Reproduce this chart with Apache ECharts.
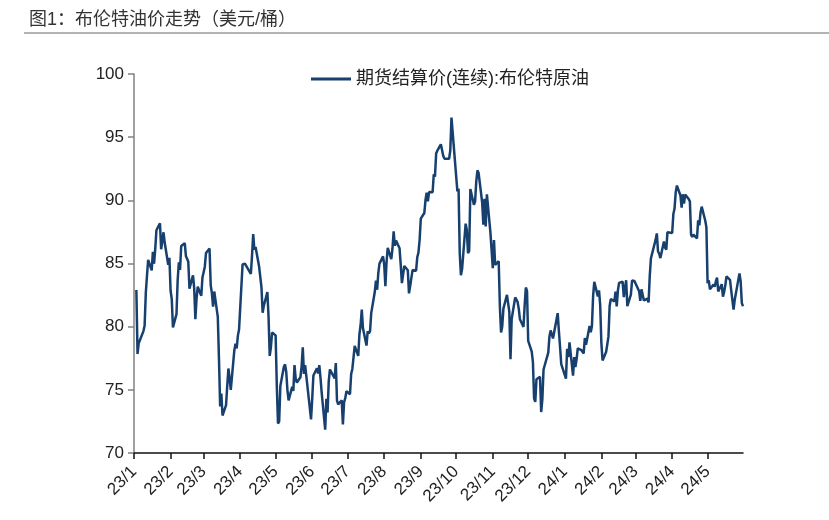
<!DOCTYPE html>
<html>
<head>
<meta charset="utf-8">
<script src="https://cdn.jsdelivr.net/npm/echarts@6/dist/echarts.min.js"></script>
<style>html,body{margin:0;padding:0;background:#fff;}#c{width:829px;height:520px;}</style>
</head>
<body>
<div id="c"></div>
<script>
const titleText = '图1：布伦特油价走势（美元/桶）';
const seriesName = '期货结算价(连续):布伦特原油';
const yTicks = [70, 75, 80, 85, 90, 95, 100];

const dates2023 = [
'2023-01-03','2023-01-04','2023-01-05','2023-01-06','2023-01-09','2023-01-10','2023-01-11','2023-01-12','2023-01-13','2023-01-16','2023-01-17','2023-01-18','2023-01-19','2023-01-20','2023-01-23','2023-01-24','2023-01-25','2023-01-26','2023-01-27','2023-01-30','2023-01-31',
'2023-02-01','2023-02-02','2023-02-03','2023-02-06','2023-02-07','2023-02-08','2023-02-09','2023-02-10','2023-02-13','2023-02-14','2023-02-15','2023-02-16','2023-02-17','2023-02-20','2023-02-21','2023-02-22','2023-02-23','2023-02-24','2023-02-27','2023-02-28',
'2023-03-01','2023-03-02','2023-03-03','2023-03-06','2023-03-07','2023-03-08','2023-03-09','2023-03-10','2023-03-13','2023-03-14','2023-03-15','2023-03-16','2023-03-17','2023-03-20','2023-03-21','2023-03-22','2023-03-23','2023-03-24','2023-03-27','2023-03-28','2023-03-29','2023-03-30','2023-03-31',
'2023-04-03','2023-04-04','2023-04-05','2023-04-06','2023-04-10','2023-04-11','2023-04-12','2023-04-13','2023-04-14','2023-04-17','2023-04-18','2023-04-19','2023-04-20','2023-04-21','2023-04-24','2023-04-25','2023-04-26','2023-04-27','2023-04-28',
'2023-05-01','2023-05-02','2023-05-03','2023-05-04','2023-05-05','2023-05-08','2023-05-09','2023-05-10','2023-05-11','2023-05-12','2023-05-15','2023-05-16','2023-05-17','2023-05-18','2023-05-19','2023-05-22','2023-05-23','2023-05-24','2023-05-25','2023-05-26','2023-05-30','2023-05-31',
'2023-06-01','2023-06-02','2023-06-05','2023-06-06','2023-06-07','2023-06-08','2023-06-09','2023-06-12','2023-06-13','2023-06-14','2023-06-15','2023-06-16','2023-06-19','2023-06-20','2023-06-21','2023-06-22','2023-06-23','2023-06-26','2023-06-27','2023-06-28','2023-06-29','2023-06-30',
'2023-07-03','2023-07-04','2023-07-05','2023-07-06','2023-07-07','2023-07-10','2023-07-11','2023-07-12','2023-07-13','2023-07-14','2023-07-17','2023-07-18','2023-07-19','2023-07-20','2023-07-21','2023-07-24','2023-07-25','2023-07-26','2023-07-27','2023-07-28','2023-07-31',
'2023-08-01','2023-08-02','2023-08-03','2023-08-04','2023-08-07','2023-08-08','2023-08-09','2023-08-10','2023-08-11','2023-08-14','2023-08-15','2023-08-16','2023-08-17','2023-08-18','2023-08-21','2023-08-22','2023-08-23','2023-08-24','2023-08-25','2023-08-28','2023-08-29','2023-08-30','2023-08-31',
'2023-09-01','2023-09-04','2023-09-05','2023-09-06','2023-09-07','2023-09-08','2023-09-11','2023-09-12','2023-09-13','2023-09-14','2023-09-15','2023-09-18','2023-09-19','2023-09-20','2023-09-21','2023-09-22','2023-09-25','2023-09-26','2023-09-27','2023-09-28','2023-09-29',
'2023-10-02','2023-10-03','2023-10-04','2023-10-05','2023-10-06','2023-10-09','2023-10-10','2023-10-11','2023-10-12','2023-10-13','2023-10-16','2023-10-17','2023-10-18','2023-10-19','2023-10-20','2023-10-23','2023-10-24','2023-10-25','2023-10-26','2023-10-27','2023-10-30','2023-10-31',
'2023-11-01','2023-11-02','2023-11-03','2023-11-06','2023-11-07','2023-11-08','2023-11-09','2023-11-10','2023-11-13','2023-11-14','2023-11-15','2023-11-16','2023-11-17','2023-11-20','2023-11-21','2023-11-22','2023-11-23','2023-11-24','2023-11-27','2023-11-28','2023-11-29','2023-11-30',
'2023-12-01','2023-12-04','2023-12-05','2023-12-06','2023-12-07','2023-12-08','2023-12-11','2023-12-12','2023-12-13','2023-12-14','2023-12-15','2023-12-18','2023-12-19','2023-12-20','2023-12-21','2023-12-22','2023-12-26','2023-12-27','2023-12-28','2023-12-29'
];
const prices2023 = [
82.90,77.84,78.69,78.57,79.65,80.10,82.67,84.03,85.28,84.46,85.92,84.98,86.16,87.63,88.19,86.13,86.12,87.47,86.66,84.90,85.46,
82.84,82.17,79.94,80.99,83.69,85.09,84.50,86.39,86.61,85.58,85.38,85.14,83.00,84.07,83.05,80.60,82.21,83.16,82.45,83.89,
84.31,84.75,85.83,86.18,83.29,82.66,81.59,82.78,80.77,77.45,73.69,74.70,72.97,73.79,75.32,76.69,75.91,74.99,78.12,78.65,78.28,79.27,79.77,
84.93,84.94,84.99,85.12,84.18,85.61,87.33,86.09,86.31,84.76,84.77,83.12,81.10,81.66,82.73,80.77,77.69,78.37,79.54,
79.31,75.32,72.33,72.50,75.30,76.83,77.01,76.41,74.98,74.17,75.23,74.91,76.96,75.86,75.58,75.99,76.84,78.36,76.26,76.95,73.54,72.66,
74.28,76.13,76.71,76.29,76.95,75.96,74.79,71.84,74.29,73.20,75.67,76.61,76.09,75.90,77.12,74.14,73.85,74.18,72.26,74.03,74.34,74.90,
74.65,76.25,76.65,76.52,78.47,77.69,79.40,80.11,81.36,79.87,78.50,79.63,79.46,79.64,81.07,82.74,83.64,82.92,84.24,84.99,85.56,
84.91,83.20,85.14,86.24,85.34,86.17,87.55,86.40,86.81,86.21,84.89,83.45,84.12,84.80,84.46,82.64,83.21,83.36,84.48,84.42,85.49,85.86,86.86,
88.55,89.00,90.04,90.60,89.92,90.65,90.64,92.06,91.88,93.70,93.93,94.43,94.34,93.53,93.30,93.27,93.29,93.96,96.55,95.38,95.31,
90.71,90.92,85.81,84.07,84.58,88.15,87.65,85.82,86.00,90.89,89.65,89.90,91.50,92.38,92.16,89.83,88.07,90.13,87.93,90.48,87.45,87.41,
84.63,86.85,84.89,85.18,81.61,79.54,80.01,81.43,82.52,82.47,81.18,77.42,80.61,82.32,82.45,81.96,81.42,80.58,79.98,81.68,83.10,82.83,
78.88,78.03,77.20,74.30,74.05,75.84,76.03,73.24,74.26,76.61,76.55,77.95,79.23,79.70,79.39,79.07,81.07,79.65,78.39,77.04
];
const dates2024 = [
'2024-01-02','2024-01-03','2024-01-04','2024-01-05','2024-01-08','2024-01-09','2024-01-10','2024-01-11','2024-01-12','2024-01-15','2024-01-16','2024-01-17','2024-01-18','2024-01-19','2024-01-22','2024-01-23','2024-01-24','2024-01-25','2024-01-26','2024-01-29','2024-01-30','2024-01-31',
'2024-02-01','2024-02-02','2024-02-05','2024-02-06','2024-02-07','2024-02-08','2024-02-09','2024-02-12','2024-02-13','2024-02-14','2024-02-15','2024-02-16','2024-02-19','2024-02-20','2024-02-21','2024-02-22','2024-02-23','2024-02-26','2024-02-27','2024-02-28','2024-02-29',
'2024-03-01','2024-03-04','2024-03-05','2024-03-06','2024-03-07','2024-03-08','2024-03-11','2024-03-12','2024-03-13','2024-03-14','2024-03-15','2024-03-18','2024-03-19','2024-03-20','2024-03-21','2024-03-22','2024-03-25','2024-03-26','2024-03-27','2024-03-28',
'2024-04-01','2024-04-02','2024-04-03','2024-04-04','2024-04-05','2024-04-08','2024-04-09','2024-04-10','2024-04-11','2024-04-12','2024-04-15','2024-04-16','2024-04-17','2024-04-18','2024-04-19','2024-04-22','2024-04-23','2024-04-24','2024-04-25','2024-04-26','2024-04-29','2024-04-30',
'2024-05-01','2024-05-02','2024-05-03','2024-05-06','2024-05-07','2024-05-08','2024-05-09','2024-05-10','2024-05-13','2024-05-14','2024-05-15','2024-05-16','2024-05-17','2024-05-20','2024-05-21','2024-05-22','2024-05-23','2024-05-24','2024-05-28','2024-05-29','2024-05-30','2024-05-31'
];
const prices2024 = [
75.89,78.25,77.59,78.76,76.12,77.59,76.80,77.41,78.29,78.15,78.29,77.88,79.10,78.56,80.06,79.55,80.04,82.43,83.55,82.40,82.87,81.71,
78.70,77.33,77.99,78.59,79.21,81.63,82.19,82.00,82.77,81.60,82.86,83.47,83.56,82.34,83.03,83.67,81.62,82.53,83.65,83.68,83.62,
83.55,82.80,82.04,82.96,82.96,82.08,82.21,81.92,84.03,85.42,85.34,86.89,87.38,85.95,85.78,85.43,86.75,86.25,86.09,87.48,
87.42,88.92,89.35,90.65,91.17,90.38,89.42,90.48,89.74,90.45,90.10,89.92,87.29,87.11,87.29,86.99,88.42,88.02,89.01,89.50,88.40,87.86,
83.44,83.67,82.96,83.33,83.16,83.58,83.88,82.79,83.36,82.38,82.75,83.27,83.98,83.71,82.88,82.90,81.36,82.12,84.22,83.60,81.86,81.62
];
const xMin = '2023-01-01';
const xMax = '2024-05-31';

const dates = dates2023.concat(dates2024);
const prices = prices2023.concat(prices2024);
const seriesData = dates.map((d, i) => [d, prices[i]]);

const FONT = '"Liberation Sans", Arial, "Noto Sans CJK SC", sans-serif';
const chart = echarts.init(document.getElementById('c'));
chart.setOption({
  animation: false,
  backgroundColor: '#fff',
  title: {
    text: titleText, left: 24, top: 6,
    textStyle: { fontSize: 18, fontWeight: 'normal', color: '#333', fontFamily: FONT }
  },
  graphic: [{
    type: 'line', shape: { x1: 24, y1: 33, x2: 829, y2: 33 },
    style: { stroke: '#9a9a9a', lineWidth: 1.5 }
  }],
  legend: {
    left: 306, top: 65, icon: 'rect', itemWidth: 40, itemHeight: 3,
    textStyle: { fontSize: 18, color: '#222', fontFamily: FONT },
    data: [seriesName]
  },
  grid: { left: 134, right: 86, top: 74, bottom: 67 },
  xAxis: {
    type: 'time', min: xMin, max: xMax,
    splitNumber: 17, minInterval: 28 * 86400000, maxInterval: 31 * 86400000,
    axisLine: { lineStyle: { color: '#111', width: 1.5 } },
    axisTick: { show: true, length: 6, lineStyle: { color: '#111', width: 1.5 } },
    splitLine: { show: false },
    axisLabel: {
      rotate: 45, fontSize: 17, color: '#222', fontFamily: FONT, margin: 16,
      showMaxLabel: false, showMinLabel: true, hideOverlap: false,
      formatter: function (v) {
        const d = new Date(v);
        return (d.getFullYear() % 100) + '/' + (d.getMonth() + 1);
      }
    }
  },
  yAxis: {
    type: 'value', min: yTicks[0], max: yTicks[yTicks.length - 1], interval: 5,
    axisLine: { show: true, lineStyle: { color: '#808080', width: 1.5 } },
    axisTick: { show: true, length: 6, lineStyle: { color: '#808080', width: 1.5 } },
    splitLine: { show: false },
    axisLabel: { fontSize: 17, color: '#222', fontFamily: FONT, margin: 10 }
  },
  series: [{
    name: seriesName, type: 'line', data: seriesData,
    showSymbol: false, symbol: 'none',
    lineStyle: { color: '#17406f', width: 2.5 },
    itemStyle: { color: '#17406f' }
  }]
});
</script>
</body>
</html>
